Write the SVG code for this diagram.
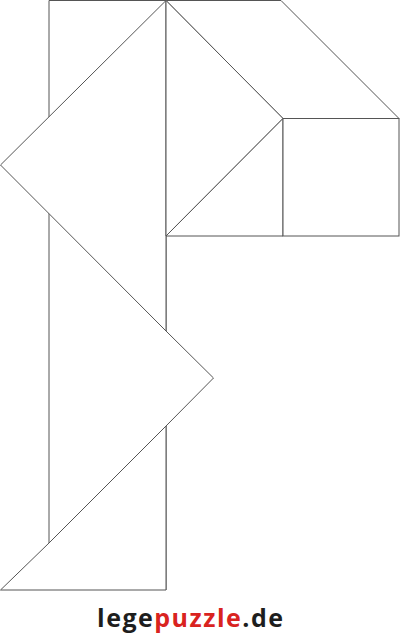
<svg xmlns="http://www.w3.org/2000/svg" width="400" height="641" viewBox="0 0 400 641">
<style>
.p{fill:#fff;stroke:#555;stroke-width:1;stroke-linejoin:miter}
.l{fill:none;stroke:#555;stroke-width:1}
.t{font-family:"Open Sans","Liberation Sans",sans-serif;font-weight:bold;font-size:25px;letter-spacing:1.5px}
</style>
<rect width="400" height="641" fill="#fff"/>
<g id="rect-piece"><path class="l" d="M49,543 V0.5 H166 V331 M166,426 V590"/></g>
<g id="large-triangle"><polygon class="p" points="166,0.5 0.5,165 166,331"/></g>
<g id="middle-piece"><polyline class="l" points="166,331 213.5,378 166,426"/></g>
<g id="bottom-triangle"><polygon class="p" points="166,426 166,590 0.5,590 49,543"/></g>
<g id="parallelogram"><polygon class="p" points="166,0.5 281,0.5 399,118.5 283,118.5"/></g>
<g id="upper-triangle"><polygon class="p" points="166,0.5 283,118.5 166,236"/></g>
<g id="lower-triangle"><polygon class="p" points="283,118.5 283,236 166,236"/></g>
<g id="square"><rect class="p" x="283" y="118.5" width="116" height="117.5"/></g>
<g id="connectors"></g>
<g id="logo"><text class="t" x="97" y="627"><tspan fill="#1e1e1e">lege</tspan><tspan fill="#d9231f">puzzle</tspan><tspan fill="#1e1e1e">.de</tspan></text></g>
</svg>
